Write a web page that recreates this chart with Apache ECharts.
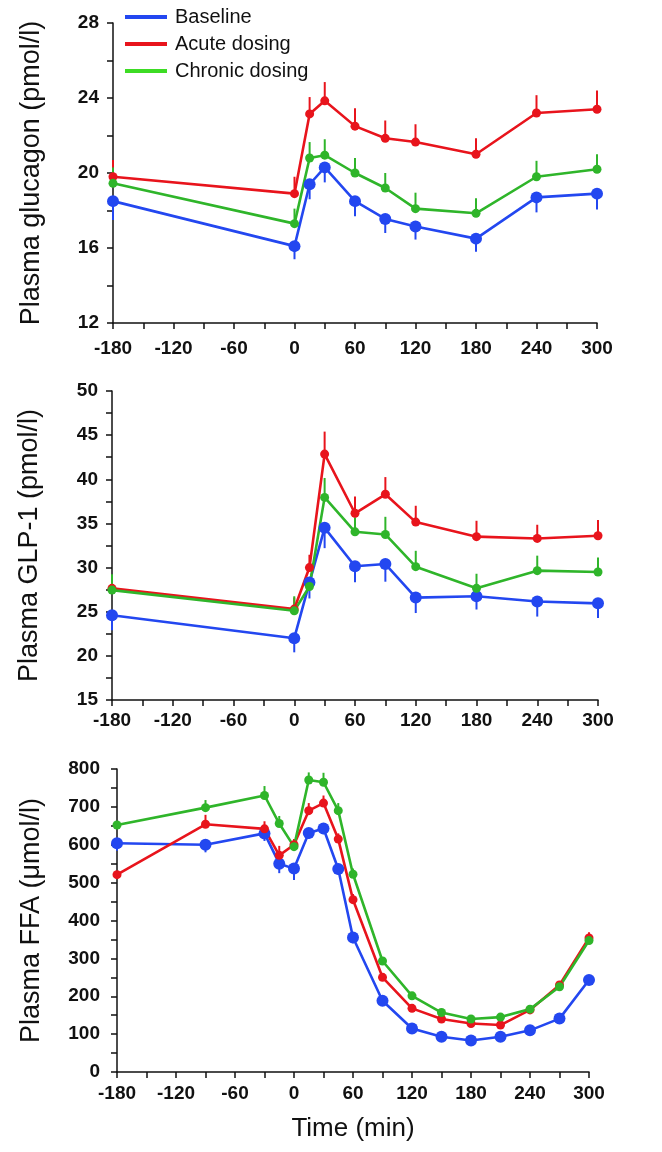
<!DOCTYPE html>
<html>
<head>
<meta charset="utf-8">
<script src="https://cdn.jsdelivr.net/npm/echarts@6/dist/echarts.min.js"></script>
<style>
html,body{margin:0;padding:0;background:#fff;}
#c{width:662px;height:1152px;}
</style>
</head>
<body>
<div id="c"></div>
<script>
// ---------- DATA ----------
const seriesNames = ['Baseline', 'Acute dosing', 'Chronic dosing'];
const xTickLabels = ['-180', '-120', '-60', '0', '60', '120', '180', '240', '300'];

// Panel 1: plasma glucagon (pmol/l)
const glucTime = [-180, 0, 15, 30, 60, 90, 120, 180, 240, 300];
const glucBase = [18.5, 16.1, 19.4, 20.3, 18.5, 17.55, 17.15, 16.5, 18.7, 18.9];
const glucBaseErr = [1.0, 0.7, 0.8, 0.8, 0.8, 0.75, 0.7, 0.7, 0.8, 0.85];
const glucAcute = [19.8, 18.9, 23.15, 23.85, 22.5, 21.85, 21.65, 21.0, 23.2, 23.4];
const glucAcuteErr = [0.9, 0.9, 0.9, 1.0, 0.95, 0.95, 0.95, 0.85, 0.95, 1.0];
const glucChronic = [19.45, 17.3, 20.8, 20.95, 20.0, 19.2, 18.1, 17.85, 19.8, 20.2];
const glucChronicErr = [0.85, 0.8, 0.85, 0.85, 0.8, 0.8, 0.85, 0.8, 0.85, 0.8];

// Panel 2: plasma GLP-1 (pmol/l)
const glpTime = [-180, 0, 15, 30, 60, 90, 120, 180, 240, 300];
const glpBase = [24.6, 22.0, 28.3, 34.5, 30.15, 30.4, 26.6, 26.75, 26.15, 25.95];
const glpBaseErr = [1.7, 1.6, 1.8, 2.3, 1.8, 2.0, 1.75, 1.5, 1.7, 1.65];
const glpAcute = [27.65, 25.3, 30.0, 42.85, 36.15, 38.3, 35.15, 33.5, 33.3, 33.6];
const glpAcuteErr = [1.2, 1.3, 1.45, 2.55, 1.9, 1.95, 1.85, 1.8, 1.55, 1.8];
const glpChronic = [27.45, 25.1, 27.85, 37.95, 34.05, 33.75, 30.1, 27.65, 29.65, 29.5];
const glpChronicErr = [1.8, 1.65, 0.8, 2.2, 1.65, 2.0, 1.8, 1.65, 1.7, 1.65];

// Panel 3: plasma FFA (umol/l)
const ffaTime = [-180, -90, -30, -15, 0, 15, 30, 45, 60, 90, 120, 150, 180, 210, 240, 270, 300];
const ffaBase = [604, 600, 630, 550, 537, 631, 643, 536, 355, 188, 115, 93, 83, 93, 110, 141, 243];
const ffaBaseErr = [20, 20, 20, 25, 30, 15, 15, 15, 15, 10, 8, 8, 8, 8, 8, 8, 10];
const ffaAcute = [521, 654, 642, 572, 600, 690, 710, 615, 455, 250, 168, 140, 128, 124, 164, 230, 354];
const ffaAcuteErr = [10, 25, 20, 25, 15, 20, 20, 15, 15, 10, 8, 8, 8, 8, 8, 10, 15];
const ffaChronic = [652, 698, 730, 656, 595, 771, 765, 690, 522, 293, 201, 157, 140, 145, 166, 225, 347];
const ffaChronicErr = [10, 20, 25, 20, 15, 20, 25, 20, 15, 10, 8, 8, 8, 8, 8, 8, 10];

// ---------- STYLE ----------
const colors = ['#2347f0', '#e8141c', '#2fb52a'];
const legendColors = ['#2347f0', '#e8141c', '#3ddc24'];
const symbolSizes = [12, 9, 9];
const errDir = [-1, 1, 1];
const FONT = 'Liberation Sans, Arial, sans-serif';

const panels = [
  { time: glucTime, vals: [glucBase, glucAcute, glucChronic], errs: [glucBaseErr, glucAcuteErr, glucChronicErr],
    name: 'Plasma glucagon (pmol/l)', min: 12, max: 28, interval: 4,
    grid: { left: 113, top: 23, width: 484, height: 300 }, xMargin: 16, yMargin: 14, nameGap: 68 },
  { time: glpTime, vals: [glpBase, glpAcute, glpChronic], errs: [glpBaseErr, glpAcuteErr, glpChronicErr],
    name: 'Plasma GLP-1 (pmol/l)', min: 15, max: 50, interval: 5,
    grid: { left: 112, top: 391, width: 486, height: 309 }, xMargin: 11, yMargin: 14, nameGap: 69 },
  { time: ffaTime, vals: [ffaBase, ffaAcute, ffaChronic], errs: [ffaBaseErr, ffaAcuteErr, ffaChronicErr],
    name: 'Plasma FFA (\u03bcmol/l)', min: 0, max: 800, interval: 100,
    grid: { left: 117, top: 769, width: 472, height: 303 }, xMargin: 12, yMargin: 17, nameGap: 72 }
];

const grids = [], xAxes = [], yAxes = [], series = [];
panels.forEach((p, i) => {
  grids.push(Object.assign({ containLabel: false }, p.grid));
  xAxes.push({
    type: 'value', gridIndex: i, min: -180, max: 300, interval: 60,
    axisLine: { onZero: false, lineStyle: { color: '#111', width: 1.5 } },
    axisTick: { show: true, length: 6, lineStyle: { color: '#111', width: 1.5 } },
    minorTick: { show: true, splitNumber: 2, length: 6, lineStyle: { color: '#111', width: 1.5 } },
    splitLine: { show: false },
    axisLabel: { margin: p.xMargin, color: '#111', fontSize: 19, fontWeight: 'bold', fontFamily: FONT,
      formatter: v => xTickLabels[xTickLabels.indexOf(String(v))] || String(v) },
    name: i === 2 ? 'Time (min)' : '', nameLocation: 'middle', nameGap: 44,
    nameTextStyle: { fontSize: 26, color: '#111', fontFamily: FONT }
  });
  yAxes.push({
    type: 'value', gridIndex: i, min: p.min, max: p.max, interval: p.interval,
    axisLine: { show: true, onZero: false, lineStyle: { color: '#111', width: 1.5 } },
    axisTick: { show: true, length: 6, lineStyle: { color: '#111', width: 1.5 } },
    minorTick: { show: true, splitNumber: 2, length: 6, lineStyle: { color: '#111', width: 1.5 } },
    splitLine: { show: false },
    axisLabel: { margin: p.yMargin, color: '#111', fontSize: 19, fontWeight: 'bold', fontFamily: FONT },
    name: p.name, nameLocation: 'middle', nameGap: p.nameGap, nameRotate: 90,
    nameTextStyle: { fontSize: 27, color: '#111', fontFamily: FONT }
  });
  for (let s = 0; s < 3; s++) {
    const col = colors[s];
    const errData = p.time.map((t, k) => [t, p.vals[s][k], p.errs[s][k], errDir[s]]);
    series.push({
      type: 'custom', xAxisIndex: i, yAxisIndex: i, z: 2, silent: true,
      data: errData,
      renderItem: function (params, api) {
        const x = api.value(0), y = api.value(1), e = api.value(2), d = api.value(3);
        const a = api.coord([x, y]);
        const b = api.coord([x, y + d * e]);
        return { type: 'line', shape: { x1: a[0], y1: a[1], x2: b[0], y2: b[1] },
          style: { stroke: col, lineWidth: 2 } };
      }
    });
    series.push({
      name: seriesNames[s], type: 'line', xAxisIndex: i, yAxisIndex: i, z: 3,
      data: p.time.map((t, k) => [t, p.vals[s][k]]),
      symbol: 'circle', symbolSize: symbolSizes[s],
      lineStyle: { color: col, width: 2.6 },
      itemStyle: { color: col },
      animation: false
    });
  }
});

const chart = echarts.init(document.getElementById('c'), null, { renderer: 'canvas' });
chart.setOption({
  animation: false,
  backgroundColor: '#fff',
  grid: grids,
  xAxis: xAxes,
  yAxis: yAxes,
  legend: {
    orient: 'vertical', left: 120, top: 2, itemGap: 7,
    itemWidth: 42, itemHeight: 4, icon: 'rect',
    textStyle: { fontSize: 20, color: '#111', fontFamily: FONT, padding: [0, 0, 0, 3] },
    data: seriesNames.map((n, s) => ({ name: n, itemStyle: { color: legendColors[s] } }))
  },
  series: series
});
</script>
</body>
</html>
